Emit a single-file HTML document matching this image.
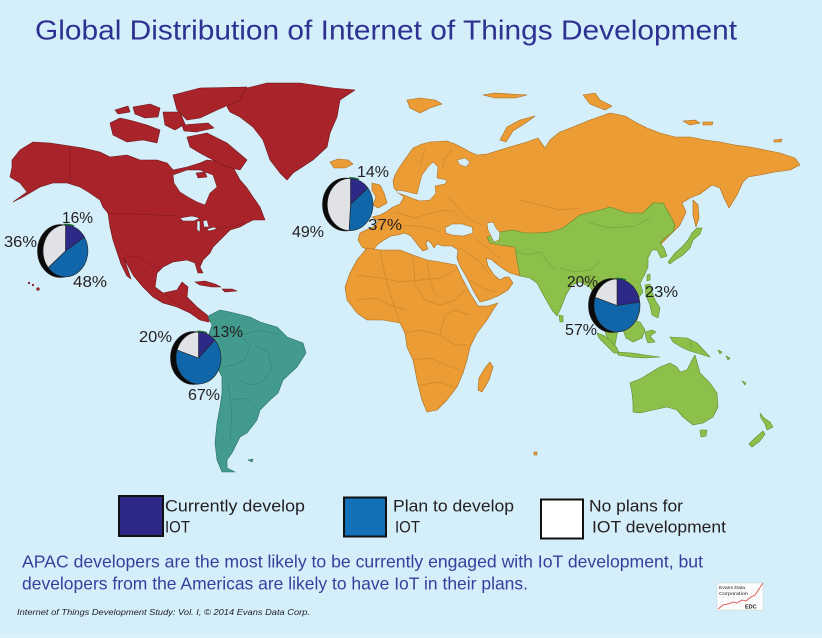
<!DOCTYPE html>
<html><head><meta charset="utf-8"><style>
html,body{margin:0;padding:0;background:#d4eefa;}
svg{display:block;}
text{font-family:"Liberation Sans",sans-serif;}
</style></head><body>
<svg width="822" height="638" viewBox="0 0 822 638" xmlns="http://www.w3.org/2000/svg">
<rect x="0" y="0" width="822" height="638" fill="#d4eefa"/>
<line x1="0" y1="636.5" x2="822" y2="636.5" stroke="#e6f3f9" stroke-width="1"/>

<text x="35" y="39.5" font-size="28" fill="#2e3192" textLength="702" lengthAdjust="spacingAndGlyphs">Global Distribution of Internet of Things Development</text>

<!-- NORTH AMERICA -->
<g fill="#a8232a" stroke="#6e1519" stroke-width="0.6" stroke-linejoin="round">
<path d="M12,160 L20,150 L33,142 L50,143 L70,146 L83,148 L100,152 L110,157 L127,155 L140,160 L157,160 L167,163 L173,170 L187,167 L200,163 L207,160 L223,162 L233,167 L240,180 L247,188 L253,197 L260,207 L265,220 L253,220 L247,223 L240,227 L230,230 L220,240 L213,247 L210,253 L203,260 L200,267 L203,273 L198,273 L195,263 L187,260 L173,262 L163,267 L157,273 L155,287 L163,293 L177,290 L182,282 L188,287 L187,297 L197,307 L207,315 L212,320 L208,322 L200,320 L190,313 L177,307 L163,303 L153,297 L143,287 L133,275 L126,262 L124,258 L128,270 L131,279 L127,276 L121,264 L117,252 L113,240 L110,227 L108,213 L103,207 L100,200 L90,193 L80,187 L67,183 L53,183 L40,187 L23,197 L13,202 L27,192 L20,183 L10,177 L12,167 Z"/>
<path d="M227,107 L233,97 L247,88 L267,83 L300,83 L333,88 L355,90 L340,100 L337,117 L330,133 L327,147 L313,160 L293,173 L287,180 L280,173 L270,160 L263,140 L253,127 L240,117 L230,112 Z"/>
<path d="M173,95 L200,88 L247,87 L240,100 L217,110 L200,118 L187,120 L177,110 Z"/>
<path d="M187,137 L207,133 L227,143 L247,160 L240,170 L227,167 L213,160 L200,153 L190,147 Z"/>
<path d="M110,123 L120,118 L133,121 L147,125 L160,130 L157,143 L143,140 L127,142 L113,135 Z"/>
<path d="M133,107 L150,104 L160,108 L158,117 L145,118 L135,114 Z"/>
<path d="M163,112 L180,112 L185,124 L175,130 L165,125 Z"/>
<path d="M182,125 L208,123 L214,128 L196,132 L184,131 Z"/>
<path d="M115,110 L128,106 L130,112 L118,114 Z"/>
<path d="M195,282 L205,281 L215,284 L221,287 L212,287 L200,285 Z"/>
<path d="M222,289 L232,289 L237,291 L225,292 Z"/>
<circle cx="29" cy="283" r="0.8"/><circle cx="33" cy="285" r="0.8"/><circle cx="38" cy="289" r="1.3"/>
</g>
<!-- Hudson Bay & Great Lakes -->
<g fill="#d4eefa" stroke="#6e1519" stroke-width="0.5">
<path d="M173,175 L187,170 L200,170 L213,175 L217,187 L210,193 L205,205 L197,202 L188,197 L180,192 L174,183 Z"/>
<path d="M180,218 L192,216 L200,218 L194,221 L183,221 Z"/>
<path d="M197,221 L200,221 L200,232 L197,230 Z"/>
<path d="M203,221 L207,220 L209,227 L204,227 Z"/>
<path d="M207,229 L214,227 L217,229 L209,231 Z"/>
</g>
<path d="M196,173 L205,172 L207,177 L198,178 Z" fill="#a8232a" stroke="#6e1519" stroke-width="0.5"/>
<g fill="none" stroke="#6e1519" stroke-width="0.5" opacity="0.7">
<path d="M70,146 L70,183"/>
<path d="M107,213 L180,216"/>
<path d="M217,229 L235,226 L245,222"/>
<path d="M125,255 L140,258 L152,266 L160,268"/>
<path d="M165,293 L172,300 L180,305"/>
</g>

<!-- SOUTH AMERICA -->
<g fill="#429b8d" stroke="#2a6d62" stroke-width="0.6" stroke-linejoin="round">
<path d="M210,315 L220,310 L230,312 L250,317 L260,322 L277,327 L287,337 L303,343 L306,353 L297,367 L283,380 L278,393 L270,400 L260,410 L257,420 L247,433 L240,437 L232,453 L227,460 L227,468 L235,472 L222,472 L217,460 L215,443 L217,423 L220,407 L222,393 L222,377 L217,367 L212,358 L207,350 L208,337 L212,325 L208,317 Z"/>
<path d="M248,460 L253,459 L252,462 Z"/>
</g>
<g fill="none" stroke="#2a6d62" stroke-width="0.5" opacity="0.7">
<path d="M222,330 L240,335 L250,345 L245,360 L232,365 L222,368"/>
<path d="M255,345 L268,352 L272,370 L262,382 L250,385 L240,380"/>
<path d="M232,400 L245,398 L255,408"/>
<path d="M240,335 L262,330 L280,335"/>
<path d="M228,385 L232,410 L230,440"/>
</g>

<!-- EURASIA orange -->
<g fill="#eb9c34" stroke="#a86a1c" stroke-width="0.6" stroke-linejoin="round">
<path d="M362,247 L358,240 L360,233 L366,230 L375,226 L378,221 L372,217 L380,215 L386,212 L393,207 L400,204 L404,197 L400,194 L394,188 L393,181 L395,175 L399,168 L403,162 L408,155 L413,148 L422,144 L430,142 L447,141 L455,144 L463,148 L470,152 L477,155 L487,154 L500,150 L513,146 L527,142 L538,138 L545,148 L550,140 L560,132 L573,127 L590,120 L610,113 L625,116 L635,122 L647,128 L660,133 L675,137 L690,137 L705,140 L720,142 L735,145 L750,147 L765,150 L780,153 L795,158 L800,165 L790,170 L775,172 L760,175 L748,177 L743,182 L737,195 L729,208 L724,198 L720,188 L712,185 L700,194 L690,198 L682,203 L686,212 L680,225 L673,232 L660,245 L600,262 L560,268 L520,276 L510,273 L505,270 L498,265 L492,260 L486,258 L488,266 L494,275 L500,280 L505,277 L509,277 L513,283 L508,290 L498,296 L488,300 L480,302 L474,292 L467,278 L460,266 L457,258 L458,250 L452,246 L443,246 L437,244 L434,248 L431,243 L427,240 L426,244 L428,249 L423,251 L417,244 L411,236 L405,233 L398,235 L391,236 L384,240 L378,244 L374,249 L366,249 Z"/>
<path d="M367,248 L357,260 L350,273 L345,287 L347,300 L357,313 L367,320 L383,320 L400,323 L405,333 L407,347 L413,360 L417,380 L422,400 L427,412 L437,410 L447,400 L457,387 L463,373 L467,360 L470,347 L477,333 L487,320 L493,310 L498,303 L488,306 L478,306 L470,293 L462,278 L456,265 L440,262 L427,260 L413,255 L400,250 L380,250 Z"/>
<path d="M490,362 L493,367 L489,380 L482,392 L478,390 L479,378 L485,368 Z"/>
<path d="M372,183 L380,185 L384,193 L387,203 L378,208 L373,205 L376,197 L372,190 Z"/>
<path d="M330,162 L338,159 L348,160 L353,164 L345,168 L334,168 Z"/>
<path d="M407,100 L420,98 L435,100 L442,104 L430,108 L420,113 L410,108 Z"/>
<path d="M483,95 L495,93 L510,94 L527,95 L515,98 L495,98 Z"/>
<path d="M500,140 L507,127 L520,120 L535,116 L527,122 L513,131 L506,142 Z"/>
<path d="M583,95 L595,93 L600,100 L612,106 L605,110 L590,104 Z"/>
<path d="M683,121 L695,120 L700,123 L690,125 Z"/>
<path d="M703,122 L713,122 L712,125 L703,125 Z"/>
<path d="M774,140 L782,139 L781,142 L774,142 Z"/>
<path d="M693,200 L698,205 L699,218 L696,227 L693,215 Z"/>
<path d="M534,452 L537,452 L537,455 L534,455 Z"/>
</g>
<!-- Baltic / White Sea water -->
<g fill="#d4eefa" stroke="#a86a1c" stroke-width="0.5" stroke-linejoin="round">
<path d="M433,162 L438,167 L437,178 L447,180 L445,184 L435,186 L436,193 L430,200 L420,201 L414,199 L409,197 L404,195 L398,193 L396,190 L404,191 L412,193 L417,194 L419,186 L422,175 L428,167 Z"/>
<path d="M457,160 L465,158 L470,162 L466,167 L460,165 Z"/>
</g>
<!-- internal borders orange -->
<g fill="none" stroke="#b3741f" stroke-width="0.5" opacity="0.75">
<path d="M357,275 L380,278 L400,282 L420,280 L440,278 L455,270"/>
<path d="M380,250 L385,275 L392,300 L400,322"/>
<path d="M413,256 L415,285 L425,300 L440,305 L455,300 L465,290"/>
<path d="M427,262 L430,280 L435,295"/>
<path d="M357,300 L375,298 L390,305 L405,310"/>
<path d="M405,333 L420,330 L440,335 L455,345 L467,345"/>
<path d="M413,360 L430,358 L445,365 L460,370"/>
<path d="M420,385 L440,382 L455,388"/>
<path d="M440,335 L445,315 L455,310 L470,315"/>
<path d="M395,212 L405,215 L415,218 L425,215 L435,212 L445,210 L455,212"/>
<path d="M400,225 L415,226 L430,228 L440,232"/>
<path d="M447,195 L460,210 L470,220 L482,225"/>
<path d="M475,238 L490,250 L500,258"/>
<path d="M500,240 L530,238 L545,250 L515,250"/>
<path d="M520,200 L540,205 L560,210 L580,208"/>
<path d="M420,165 L425,150"/><path d="M442,170 L445,158 L452,150"/>
<path d="M460,248 L470,255 L480,262 L490,275"/>
<path d="M470,280 L482,288 L495,292"/>
</g>
<!-- Asia green -->
<g fill="#8cc04a" stroke="#5c8a2c" stroke-width="0.6" stroke-linejoin="round">
<path d="M487,237 L500,232 L513,230 L525,233 L537,233 L550,232 L563,228 L580,215 L600,210 L610,207 L627,213 L643,213 L653,203 L663,203 L670,215 L675,225 L673,232 L665,238 L660,243 L664,248 L667,256 L661,258 L657,250 L652,250 L648,258 L648,267 L644,276 L640,283 L643,292 L637,300 L640,310 L637,320 L627,325 L620,320 L618,330 L615,345 L611,343 L606,335 L603,322 L600,310 L597,298 L590,287 L580,282 L572,285 L566,295 L560,310 L557,316 L552,310 L545,298 L537,283 L530,278 L520,276 L517,260 L515,247 L500,245 L490,243 Z"/>
<path d="M559,315 L563,316 L563,322 L560,322 Z"/>
<path d="M668,262 L675,253 L683,246 L688,240 L692,233 L697,228 L702,228 L700,234 L693,240 L690,248 L683,255 L675,260 L670,264 Z"/>
<path d="M647,275 L650,274 L650,280 L647,281 Z"/>
<path d="M645,285 L650,284 L652,292 L655,300 L660,308 L658,318 L652,315 L650,305 L646,296 Z"/>
<path d="M625,325 L633,320 L640,322 L645,330 L642,338 L633,342 L626,338 L623,330 Z"/>
<path d="M645,332 L652,330 L656,332 L650,336 L655,342 L648,343 L646,338 Z"/>
<path d="M597,333 L603,335 L611,341 L617,348 L619,353 L614,353 L606,345 L599,338 Z"/>
<path d="M618,352 L632,353 L645,355 L660,357 L645,358 L630,357 L618,355 Z"/>
<path d="M670,337 L687,338 L697,343 L710,357 L700,354 L690,351 L683,348 L673,342 Z"/>
<path d="M630,383 L642,378 L650,373 L660,367 L670,363 L677,367 L680,372 L687,370 L692,360 L695,355 L700,373 L710,383 L717,393 L718,407 L713,417 L703,423 L693,425 L683,417 L677,410 L667,407 L653,410 L640,413 L633,412 L633,403 L632,393 Z"/>
<path d="M700,430 L707,430 L706,436 L701,437 Z"/>
<path d="M760,413 L764,418 L770,422 L773,427 L767,430 L765,424 L761,418 Z"/>
<path d="M763,431 L765,434 L760,441 L752,447 L749,444 L755,438 Z"/>
<path d="M718,350 L722,352 L720,354 Z"/>
<path d="M726,356 L730,358 L728,360 Z"/>
<path d="M742,381 L746,383 L745,385 Z"/>
</g>
<g fill="none" stroke="#5c8a2c" stroke-width="0.5" opacity="0.75">
<path d="M590,223 L610,228 L635,226 L650,218"/>
<path d="M515,250 L525,255 L540,252 L548,262 L555,270"/>
<path d="M560,268 L575,272 L590,270 L600,262"/>
<path d="M580,282 L590,275 L600,278"/>
<path d="M600,290 L615,285 L630,288"/>
<path d="M690,340 L692,350"/>
</g>
<!-- inland seas -->
<g fill="#d4eefa" stroke="#a86a1c" stroke-width="0.5">
<path d="M487,223 L493,222 L496,228 L500,233 L499,240 L494,242 L491,236 L488,230 Z"/>
<path d="M445,228 L452,224 L462,224 L472,227 L473,233 L463,236 L452,235 L446,233 Z"/>
</g>

<!-- PIES -->
<g stroke="#222" stroke-width="0.6" stroke-linejoin="round">
<!-- NA -->
<ellipse cx="60.5" cy="251" rx="23" ry="26.5" fill="#0a0a0a"/>
<path d="M64,224.6 A23,26.5 0 0 1 74,226" fill="none" stroke="#1f7a3a" stroke-width="1.6"/>
<path d="M65.5,251 L65.5,225 A22.5,26 0 0 1 84.5,237.1 Z" fill="#2d2a87"/>
<path d="M65.5,251 L84.5,237.1 A22.5,26 0 0 1 48.2,267.6 Z" fill="#1066a8"/>
<path d="M65.5,251 L48.2,267.6 A22.5,26 0 0 1 65.5,225 Z" fill="#e1e2e6"/>
<!-- Europe -->
<ellipse cx="345.5" cy="204.5" rx="23" ry="26.5" fill="#0a0a0a"/>
<path d="M349,178.1 A23,26.5 0 0 1 359,179.5" fill="none" stroke="#1f7a3a" stroke-width="1.6"/>
<path d="M350.5,204.5 L350.5,178.5 A22.5,26 0 0 1 367.8,187.9 Z" fill="#2d2a87"/>
<path d="M350.5,204.5 L367.8,187.9 A22.5,26 0 0 1 349.1,230.5 Z" fill="#1066a8"/>
<path d="M350.5,204.5 L349.1,230.5 A22.5,26 0 0 1 350.5,178.5 Z" fill="#e1e2e6"/>
<!-- South America -->
<ellipse cx="193.5" cy="358" rx="23" ry="26.5" fill="#0a0a0a"/>
<path d="M197,331.6 A23,26.5 0 0 1 207,333" fill="none" stroke="#1f7a3a" stroke-width="1.6"/>
<path d="M198.5,358 L198.5,332 A22.5,26 0 0 1 214.9,340.2 Z" fill="#2d2a87"/>
<path d="M198.5,358 L214.9,340.2 A22.5,26 0 1 1 177.1,350 Z" fill="#1066a8"/>
<path d="M198.5,358 L177.1,350 A22.5,26 0 0 1 198.5,332 Z" fill="#e1e2e6"/>
<!-- Asia -->
<ellipse cx="612" cy="305.5" rx="23.5" ry="27" fill="#0a0a0a"/>
<path d="M615.5,278.6 A23.5,27 0 0 1 626,280" fill="none" stroke="#1f7a3a" stroke-width="1.6"/>
<path d="M617,305.5 L617,279 A23,26.5 0 0 1 639.8,302.2 Z" fill="#2d2a87"/>
<path d="M617,305.5 L639.8,302.2 A23,26.5 0 1 1 595.1,297.3 Z" fill="#1066a8"/>
<path d="M617,305.5 L595.1,297.3 A23,26.5 0 0 1 617,279 Z" fill="#e1e2e6"/>
</g>

<!-- pie labels -->
<g font-size="16" fill="#231f20">
<text x="62" y="223" textLength="31" lengthAdjust="spacingAndGlyphs">16%</text>
<text x="4" y="247" textLength="33" lengthAdjust="spacingAndGlyphs">36%</text>
<text x="73" y="287" textLength="34" lengthAdjust="spacingAndGlyphs">48%</text>
<text x="357" y="177" textLength="32" lengthAdjust="spacingAndGlyphs">14%</text>
<text x="292" y="237" textLength="32" lengthAdjust="spacingAndGlyphs">49%</text>
<text x="368" y="230" textLength="34" lengthAdjust="spacingAndGlyphs">37%</text>
<text x="139" y="342" textLength="33" lengthAdjust="spacingAndGlyphs">20%</text>
<text x="212" y="337" textLength="31" lengthAdjust="spacingAndGlyphs">13%</text>
<text x="188" y="400" textLength="32" lengthAdjust="spacingAndGlyphs">67%</text>
<text x="567" y="287" textLength="31" lengthAdjust="spacingAndGlyphs">20%</text>
<text x="645" y="297" textLength="33" lengthAdjust="spacingAndGlyphs">23%</text>
<text x="565" y="335" textLength="32" lengthAdjust="spacingAndGlyphs">57%</text>
</g>

<!-- LEGEND -->
<rect x="119" y="496" width="44" height="40" fill="#2d2a87" stroke="#111" stroke-width="2"/>
<rect x="344" y="497.5" width="42" height="39" fill="#1271b9" stroke="#111" stroke-width="2"/>
<rect x="541" y="499.5" width="42" height="39" fill="#ffffff" stroke="#111" stroke-width="2"/>
<g font-size="17" fill="#231f20">
<text x="165" y="511.5" textLength="140" lengthAdjust="spacingAndGlyphs">Currently develop</text>
<text x="165" y="532.5" textLength="25" lengthAdjust="spacingAndGlyphs">IOT</text>
<text x="393" y="511.5" textLength="121" lengthAdjust="spacingAndGlyphs">Plan to develop</text>
<text x="395" y="532.5" textLength="25" lengthAdjust="spacingAndGlyphs">IOT</text>
<text x="589" y="511.5" textLength="94" lengthAdjust="spacingAndGlyphs">No plans for</text>
<text x="592" y="532.5" textLength="134" lengthAdjust="spacingAndGlyphs">IOT development</text>
</g>

<!-- caption -->
<g font-size="17.5" fill="#3a3d9c">
<text x="22" y="567.5" textLength="681" lengthAdjust="spacingAndGlyphs">APAC developers are the most likely to be currently engaged with IoT development, but</text>
<text x="22" y="589.5" textLength="506" lengthAdjust="spacingAndGlyphs">developers from the Americas are likely to have IoT in their plans.</text>
</g>
<text x="17" y="615" font-size="8.5" font-style="italic" fill="#222" textLength="293" lengthAdjust="spacingAndGlyphs">Internet of Things Development Study: Vol. I, © 2014 Evans Data Corp.</text>

<!-- logo -->
<g>
<rect x="717" y="583" width="46" height="27" fill="#ffffff" stroke="#cfcfcf" stroke-width="0.5"/>
<g stroke="#e2e2e2" stroke-width="0.4">
<line x1="722" y1="583" x2="722" y2="610"/><line x1="728" y1="583" x2="728" y2="610"/><line x1="734" y1="583" x2="734" y2="610"/><line x1="740" y1="583" x2="740" y2="610"/><line x1="746" y1="583" x2="746" y2="610"/><line x1="752" y1="583" x2="752" y2="610"/><line x1="758" y1="583" x2="758" y2="610"/>
<line x1="717" y1="590" x2="763" y2="590"/><line x1="717" y1="597" x2="763" y2="597"/><line x1="717" y1="604" x2="763" y2="604"/>
</g>
<text x="719" y="589" font-size="4.6" fill="#222" textLength="26" lengthAdjust="spacingAndGlyphs">Evans Data</text>
<text x="719" y="595" font-size="4.6" fill="#222" textLength="29" lengthAdjust="spacingAndGlyphs">Corporation</text>
<polyline points="718,609 723,605 728,604 733,602 737,603 742,600 746,601 751,597 755,595 759,589 763,583" fill="none" stroke="#d9534f" stroke-width="0.9"/>
<text x="745" y="608.5" font-size="5.5" font-weight="bold" font-family="Liberation Serif, serif" fill="#222">EDC</text>
</g>
</svg>
</body></html>
